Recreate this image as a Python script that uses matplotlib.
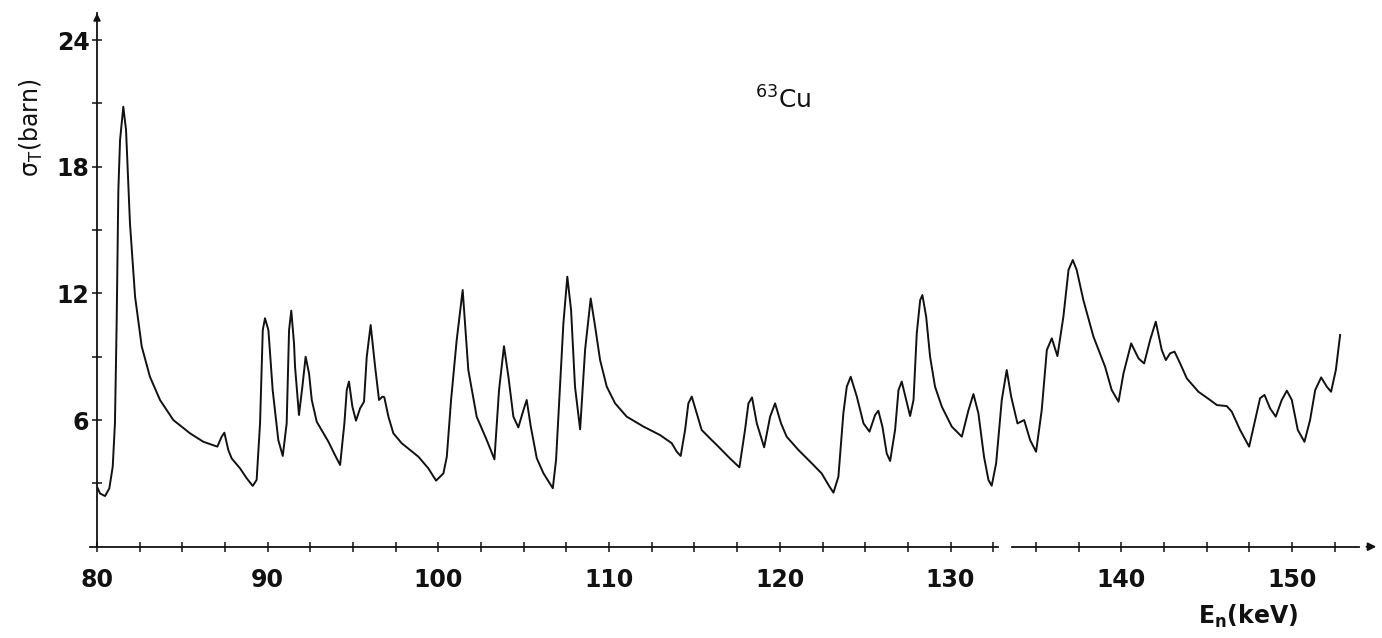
import matplotlib
matplotlib.use("Agg")
import matplotlib.pyplot as plt
from matplotlib.ticker import FixedLocator

energy_keV = [
    80.0, 80.18, 80.47, 80.72, 80.92, 81.05, 81.15, 81.25, 81.35, 81.54, 81.7, 81.93, 82.23,
    82.62, 83.1, 83.69, 84.47, 85.45, 86.23, 87.05, 87.3, 87.46, 87.69, 87.89, 88.38, 88.77,
    89.12, 89.35, 89.55, 89.71, 89.84, 90.04, 90.29, 90.62, 90.88, 91.11, 91.25, 91.38, 91.54,
    91.6, 91.83, 92.03, 92.22, 92.42, 92.58, 92.87, 93.55, 93.94, 94.24, 94.49, 94.63, 94.76,
    94.96, 95.17, 95.41, 95.64, 95.8, 96.03, 96.29, 96.52, 96.72, 96.83, 97.07, 97.36, 97.85,
    98.83, 99.41, 99.86, 100.29, 100.49, 100.74, 101.07, 101.42, 101.75, 102.24, 102.83,
    103.28, 103.55, 103.84, 104.1, 104.39, 104.68, 104.98, 105.17, 105.41, 105.76, 106.15,
    106.7, 106.89, 107.12, 107.32, 107.55, 107.77, 108.0, 108.3, 108.59, 108.92, 109.18,
    109.47, 109.86, 110.35, 111.03, 112.01, 112.98, 113.67, 113.96, 114.19, 114.45, 114.64,
    114.84, 115.13, 115.42, 115.91, 116.4, 117.08, 117.63, 117.96, 118.16, 118.37, 118.65,
    119.08, 119.43, 119.72, 120.07, 120.4, 121.09, 121.87, 122.45, 122.85, 123.14, 123.43,
    123.72, 123.92, 124.15, 124.51, 124.9, 125.25, 125.58, 125.77, 126.01, 126.26, 126.46,
    126.75, 126.95, 127.14, 127.4, 127.63, 127.83, 128.02, 128.22, 128.35, 128.57, 128.8,
    129.09, 129.49, 130.07, 130.66, 131.05, 131.34, 131.63, 131.96, 132.22, 132.41, 132.67,
    133.0, 133.29, 133.55, 133.92, 134.31, 134.66, 135.01, 135.34, 135.64, 135.93, 136.26,
    136.61, 136.91, 137.16, 137.39, 137.78, 138.37, 139.05, 139.44, 139.84, 140.13, 140.58,
    141.01, 141.34, 141.69, 142.02, 142.37, 142.61, 142.86, 143.12, 143.45, 143.84, 144.52,
    145.2, 145.6, 146.18, 146.47, 146.96, 147.49, 147.84, 148.13, 148.39, 148.72, 149.05,
    149.4, 149.7, 149.99, 150.34, 150.73, 151.06, 151.36, 151.71, 152.04, 152.29, 152.57,
    152.82]
sigma_barn = [
    2.84, 2.52, 2.4, 2.76, 3.79, 5.84, 10.58, 16.9, 19.27, 20.84, 19.74, 15.32, 11.84,
    9.48, 8.05, 6.95, 6.0, 5.37, 4.97, 4.74, 5.21, 5.4, 4.58, 4.18, 3.71, 3.24,
    2.88, 3.16, 5.84, 10.26, 10.82, 10.26, 7.42, 5.05, 4.3, 5.84, 10.26, 11.18, 9.63,
    8.53, 6.24, 7.58, 9.0, 8.21, 6.95, 5.92, 4.98, 4.34, 3.87, 5.84, 7.42, 7.82,
    6.63, 5.97, 6.55, 6.87, 9.0, 10.5, 8.53, 6.95, 7.11, 7.08, 6.16, 5.37, 4.9,
    4.26, 3.71, 3.13, 3.47, 4.26, 6.95, 9.79, 12.16, 8.37, 6.16, 5.05,
    4.14, 7.42, 9.5, 8.05, 6.16, 5.65, 6.47, 6.95, 5.69, 4.19, 3.48,
    2.77, 4.11, 7.58, 10.58, 12.79, 11.21, 7.58, 5.56, 9.32, 11.76, 10.42,
    8.84, 7.58, 6.79, 6.16, 5.69, 5.29, 4.9, 4.5, 4.3, 5.53, 6.79,
    7.11, 6.32, 5.53, 5.13, 4.74, 4.18, 3.76, 5.53, 6.79, 7.07, 5.84,
    4.71, 6.16, 6.79, 5.84, 5.21, 4.58, 3.95, 3.47, 2.92, 2.56, 3.32,
    6.32, 7.58, 8.05, 7.11, 5.84, 5.45, 6.24, 6.44, 5.68, 4.42, 4.06,
    5.53, 7.42, 7.82, 6.95, 6.19, 6.95, 10.11, 11.68, 11.92, 10.9, 9.0,
    7.58, 6.63, 5.69, 5.21, 6.47, 7.23, 6.32, 4.26, 3.16, 2.89, 3.95,
    6.95, 8.37, 7.11, 5.84, 6.0, 5.05, 4.5, 6.47, 9.32, 9.87, 9.03,
    10.9, 13.11, 13.58, 13.11, 11.68, 9.95, 8.53, 7.42, 6.87, 8.21, 9.63,
    8.92, 8.68, 9.79, 10.66, 9.32, 8.84, 9.16, 9.24, 8.68, 7.97, 7.34,
    6.95, 6.71, 6.66, 6.4, 5.53, 4.74, 6.0, 7.03, 7.19, 6.55, 6.16,
    6.95, 7.39, 6.95, 5.53, 4.97, 6.0, 7.42, 8.02, 7.58, 7.34, 8.37,
    10.03]

x_major = [80, 90, 100, 110, 120, 130, 140, 150]
x_minor = [82.5, 85, 87.5, 92.5, 95, 97.5, 102.5, 105, 107.5, 112.5, 115, 117.5,
           122.5, 125, 127.5, 132.5, 135, 137.5, 142.5, 145, 147.5, 152.5]
y_major = [6, 12, 18, 24]
y_minor = [3, 9, 15, 21]

ink = "#111111"
fig = plt.figure(figsize=(13.82, 6.38), dpi=100)
ax = fig.add_axes([0.0702, 0.1431, 0.9284, 0.8365])
ax.set_xlim(80, 155.16)
ax.set_ylim(0, 25.28)

ax.plot(energy_keV, sigma_barn, color=ink, lw=1.4, solid_joinstyle="round")

for s in ["top", "right", "bottom"]:
    ax.spines[s].set_visible(False)
ax.spines["left"].set_linewidth(1.3)
ax.spines["left"].set_color(ink)

# broken x axis line with arrow
ax.plot([79.6, 132.8], [0, 0], color=ink, lw=1.3, clip_on=False)
ax.plot([133.6, 153.9], [0, 0], color=ink, lw=1.3, clip_on=False)
ax.annotate("", xy=(155.1, 0), xytext=(154.2, 0),
            arrowprops=dict(arrowstyle="-|>", color=ink, lw=1.3, mutation_scale=12),
            annotation_clip=False)
ax.annotate("", xy=(80, 25.4), xytext=(80, 24.9),
            arrowprops=dict(arrowstyle="-|>", color=ink, lw=1.3, mutation_scale=10),
            annotation_clip=False)

ax.set_xticks(x_major)
ax.xaxis.set_minor_locator(FixedLocator(x_minor))
ax.set_yticks(y_major)
ax.yaxis.set_minor_locator(FixedLocator(y_minor))
ax.tick_params(axis="both", which="both", direction="inout", length=7, width=1.1, color=ink)
ax.tick_params(axis="x", which="major", pad=12, labelsize=17)
ax.tick_params(axis="y", which="major", pad=2, labelsize=17)
for lab in ax.get_xticklabels() + ax.get_yticklabels():
    lab.set_fontweight("bold")
    lab.set_fontfamily("DejaVu Sans")
    lab.set_color(ink)

fig.text(0.023, 0.80, r"$\mathregular{\sigma_T}$(barn)", rotation=90, fontsize=17,
         ha="center", va="center", fontfamily="DejaVu Sans", color=ink)
fig.text(0.903, 0.012, r"E$_{\mathregular{n}}$(keV)", fontsize=17, ha="center", va="bottom",
         fontweight="bold", fontfamily="DejaVu Sans", color=ink)
fig.text(0.567, 0.843, r"$^{\mathregular{63}}$Cu", fontsize=18, ha="center", va="center",
         fontfamily="DejaVu Sans", color=ink)

fig.savefig("out.png", dpi=100, facecolor="white")
